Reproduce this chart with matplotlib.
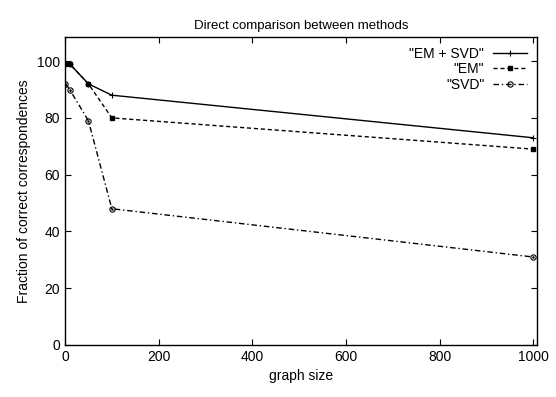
import matplotlib
matplotlib.use("Agg")
import matplotlib.pyplot as plt

plt.rcParams['font.family'] = ['Liberation Sans', 'DejaVu Sans']

graph_size = [1, 10, 50, 100, 1000]
em_svd = [99, 99, 92, 88, 73]
em = [99, 99, 92, 80, 69]
svd = [92, 90, 79, 48, 31]

fig = plt.figure(figsize=(5.56, 3.97), dpi=100)
ax = fig.add_axes([65/556, 1-345/397, (537-65)/556, (345-37)/397])

ax.plot(graph_size, em_svd, color='black', lw=1, marker='+', ms=4.5, mew=0.8, label='"EM + SVD"')
ax.plot(graph_size, em, color='black', lw=1, ls=(0, (3, 2)), marker='s', ms=3.5, label='"EM"')
ax.plot(graph_size, svd, color='black', lw=1, ls=(0, (4, 2, 1, 2)), marker='o', ms=3.8,
        mfc='none', mew=0.8, label='"SVD"')
ax.plot(graph_size, svd, color='black', lw=0, marker='.', ms=1.5)

ax.set_xlim(0, 1008)
ax.set_ylim(0, 108.5)
ax.set_xticks([0, 200, 400, 600, 800, 1000])
ax.set_yticks([0, 20, 40, 60, 80, 100])
ax.tick_params(direction='in', top=True, right=True, labelsize=10, length=4, width=0.8)
for s in ax.spines.values():
    s.set_linewidth(1)

ax.set_xlabel('graph size', fontsize=10)
ax.set_ylabel('Fraction of correct correspondences', fontsize=10)
ax.set_title('Direct comparison between methods', fontsize=9.5)

leg = ax.legend(loc='upper right', markerfirst=False, frameon=False, fontsize=10,
                handlelength=2.5, borderaxespad=0.3, labelspacing=0.1, handletextpad=0.6)
for t in leg.get_texts():
    t.set_ha('right')

fig.savefig('out.png', dpi=100)
